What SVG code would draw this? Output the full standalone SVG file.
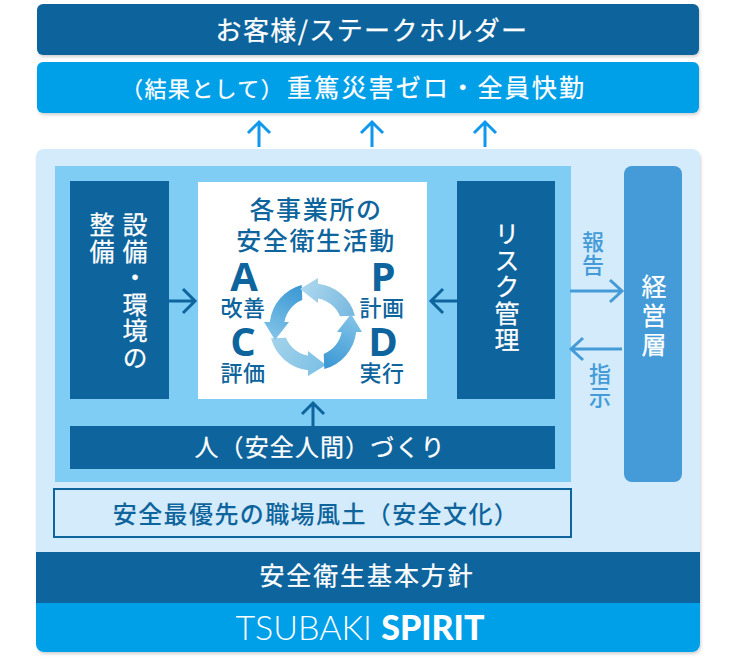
<svg xmlns="http://www.w3.org/2000/svg" xmlns:xlink="http://www.w3.org/1999/xlink" width="740" height="660" viewBox="0 0 740 660">
<style>
text{font-family:"Noto Sans CJK JP","Noto Sans",sans-serif;text-anchor:middle;font-weight:500}
.w{fill:#fff;font-weight:400;stroke:#fff;stroke-width:.25px}.d{fill:#0e649c}.m{fill:#449bd8}
.t{font-size:24px;letter-spacing:1.6px}
.v{writing-mode:vertical-rl;text-orientation:upright;font-size:25px;letter-spacing:1.5px;text-anchor:start}
.pdca{font-family:"Open Sans",sans-serif;font-size:40px;font-weight:700;fill:#0e649c}
.s{font-size:22px;fill:#0e649c;letter-spacing:.6px}
.conn{fill:none;stroke-width:3}
</style>
<defs>
<filter id="sh" x="-5%" y="-5%" width="110%" height="115%"><feDropShadow dx="1" dy="2" stdDeviation="1.5" flood-color="#000" flood-opacity=".18"/></filter>
<linearGradient id="g1" gradientUnits="userSpaceOnUse" x1="42" y1="-11" x2="-13" y2="-38"><stop offset="0" stop-color="#75b7df"/><stop offset="1" stop-color="#aed8ee"/></linearGradient>
<linearGradient id="g2" gradientUnits="userSpaceOnUse" x1="42" y1="-11" x2="-13" y2="-38"><stop offset="0" stop-color="#a5d3ea"/><stop offset="1" stop-color="#7cc0e6"/></linearGradient>
<linearGradient id="g3" gradientUnits="userSpaceOnUse" x1="42" y1="-11" x2="-13" y2="-38"><stop offset="0" stop-color="#3896d3"/><stop offset="1" stop-color="#82c4e8"/></linearGradient>
<path id="cy" d="M42-11.3A43.5 43.5 0 0 0 5-43.2V-49L-13-38L5-24V-28.6A29 29 0 0 1 27-10.7Z"/>
</defs>
<g id="stakeholders"><rect x="37" y="4" width="662" height="51" rx="6" fill="#0e649c" filter="url(#sh)"/><text class="w" x="372" y="40" style="font-size:26px;letter-spacing:1.4px">お客様/ステークホルダー</text></g>
<g id="result"><rect x="37" y="62" width="662" height="51" rx="6" fill="#00a0e9" filter="url(#sh)"/><text class="w" x="121" y="97" style="text-anchor:start;font-size:25px;letter-spacing:2.2px"><tspan style="font-size:22px;letter-spacing:1.4px">（結果として）</tspan><tspan x="287">重篤災害ゼロ・全員快勤</tspan></text></g>
<g id="panel"><rect x="36" y="149" width="664" height="503" rx="8" fill="#d3ebfa" filter="url(#sh)"/><rect x="55" y="166" width="516" height="316" fill="#7fcdf4"/></g>
<g id="activities"><rect x="198" y="182" width="229" height="217" fill="#fff"/>
<text class="d" x="316" y="219" font-size="25" letter-spacing="1.6">各事業所の</text>
<text class="d" x="316" y="250" font-size="25" letter-spacing="1.6">安全衛生活動</text>
<text class="pdca" x="244" y="291">A</text><text class="pdca" x="383" y="291">P</text>
<text class="pdca" x="243" y="356">C</text><text class="pdca" x="383" y="356">D</text>
<text class="s" x="243" y="316">改善</text><text class="s" x="382" y="316">計画</text>
<text class="s" x="243" y="381">評価</text><text class="s" x="382" y="381">実行</text>
<g transform="translate(313 327)"><use xlink:href="#cy" href="#cy" fill="url(#g2)" transform="rotate(180)"/><use xlink:href="#cy" href="#cy" fill="url(#g3)" transform="rotate(-90)"/><use xlink:href="#cy" href="#cy" fill="url(#g1)"/><use xlink:href="#cy" href="#cy" fill="url(#g3)" transform="rotate(90)"/></g></g>
<g id="equipment"><rect x="70" y="181" width="99" height="218" fill="#0e649c"/>
<text class="v w" x="135" y="212">設備・環境の</text><text class="v w" x="102" y="212">整備</text></g>
<g id="risk"><rect x="457" y="181" width="98" height="218" fill="#0e649c"/><text class="v w" x="507" y="221" style="letter-spacing:1.6px">リスク管理</text></g>
<g id="people"><rect x="70" y="426" width="485" height="43" fill="#0e649c"/><text class="t w" x="320" y="456" style="letter-spacing:1.1px">人（安全人間）づくり</text></g>
<g id="culture"><rect x="54" y="489" width="517" height="48" fill="#d3ebfa" stroke="#0e649c" stroke-width="2"/><text class="t d" x="316" y="523" style="letter-spacing:1.4px">安全最優先の職場風土（安全文化）</text></g>
<g id="management"><rect x="624" y="166" width="58" height="316" rx="8" fill="#449bd8"/><text class="v w" x="654" y="274" style="letter-spacing:4px">経営層</text></g>
<g id="policy"><rect x="36" y="552" width="664" height="51" fill="#0e649c"/><text class="w" x="367" y="585" style="font-size:25px;letter-spacing:1.9px">安全衛生基本方針</text></g>
<g id="spirit"><path d="M36 603H700V644a8 8 0 0 1-8 8H44a8 8 0 0 1-8-8Z" fill="#00a0e9"/><text x="360" y="640" fill="#fff" font-size="34" style="font-family:Lato,sans-serif"><tspan font-weight="300">TSUBAKI </tspan><tspan font-weight="900">SPIRIT</tspan></text></g>
<g id="connectors" class="conn">
<g stroke="#0f98ec"><path d="M259 147V123M248 133L259 122L270 133M372 147V123M361 133L372 122L383 133M485 147V123M474 133L485 122L496 133"/></g>
<g stroke="#0e649c"><path d="M169 301H194M183 289L195 301L183 313M457 301H432M443 289L431 301L443 313M313 426V404M302 414L313 403L324 414"/></g>
<g stroke="#449bd8"><path d="M570 291H621M610 280L622 291L610 302M622 349H571M583 338L571 349L583 360"/></g>
</g>
<g id="labels"><text class="v m" x="593" y="231" style="font-size:22px;letter-spacing:1px">報告</text><text class="v m" x="600" y="363" style="font-size:22px;letter-spacing:1px">指示</text></g>
</svg>
